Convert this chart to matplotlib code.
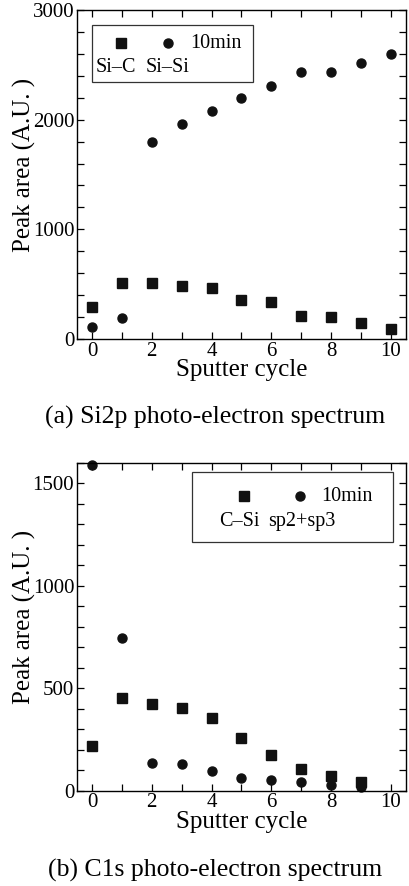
import matplotlib
matplotlib.use("Agg")
import matplotlib.pyplot as plt
from matplotlib.patches import Rectangle
from matplotlib.ticker import MultipleLocator

plt.rcParams['font.family'] = ['Liberation Serif', 'DejaVu Serif']
plt.rcParams['mathtext.fontset'] = 'stix'

# (a) Si2p peak areas
cycle_a = [0, 1, 2, 3, 4, 5, 6, 7, 8, 9, 10]
si_c = [291, 506, 506, 482, 463, 353, 334, 212, 205, 150, 95]
si_si_x = [0, 1, 2, 3, 4, 5, 6, 7, 8, 9, 10]
si_si = [107, 193, 1794, 1963, 2077, 2196, 2307, 2433, 2439, 2521, 2598]

# (b) C1s peak areas
cycle_b = [0, 1, 2, 3, 4, 5, 6, 7, 8, 9]
c_si = [218, 454, 422, 402, 353, 259, 174, 104, 72, 44]
sp23 = [1591, 746, 134, 130, 98, 64, 52, 41, 28, 20]

fig = plt.figure(figsize=(4.10, 8.86), dpi=100)
ax1 = fig.add_axes([0.1878, 0.6174, 0.8024, 0.3713])
ax2 = fig.add_axes([0.1878, 0.1076, 0.8024, 0.3702])


def style(ax, ymax, ymaj, ymin):
    ax.set_xlim(-0.5, 10.5)
    ax.set_ylim(0, ymax)
    ax.xaxis.set_major_locator(MultipleLocator(2))
    ax.xaxis.set_minor_locator(MultipleLocator(1))
    ax.yaxis.set_major_locator(MultipleLocator(ymaj))
    ax.yaxis.set_minor_locator(MultipleLocator(ymin))
    ax.tick_params(which='both', direction='in', top=True, right=True,
                   labelsize=15, pad=2, width=0.9)
    ax.tick_params(which='major', length=5)
    ax.tick_params(which='minor', length=5)
    for s in ax.spines.values():
        s.set_linewidth(1.0)
    ax.set_xlabel('Sputter cycle', fontsize=18, labelpad=-1)
    ax.set_ylabel('Peak area (A.U. )', fontsize=18)
    ax.yaxis.set_label_coords(-0.125, 0.53)


def legend_box(ax, box, sq, ci, txt10, lab1, lab2):
    ax.add_patch(Rectangle((box[0], box[1]), box[2], box[3], transform=ax.transAxes,
                           fill=False, edgecolor='#333333', linewidth=0.9, zorder=4))
    ax.plot(sq[0], sq[1], 's', color='#111111', markersize=7, transform=ax.transAxes)
    ax.plot(ci[0], ci[1], 'o', color='#111111', markersize=6.5, transform=ax.transAxes)
    ax.text(txt10[0], txt10[1], '10min', transform=ax.transAxes, fontsize=14.5,
            va='center', ha='left')
    ax.text(lab1[0], lab1[1], lab1[2], transform=ax.transAxes, fontsize=14.5,
            va='center', ha='left')
    ax.text(lab2[0], lab2[1], lab2[2], transform=ax.transAxes, fontsize=14.5,
            va='center', ha='left')


style(ax1, 3000, 1000, 200)
ax1.plot(cycle_a, si_c, 's', color='#111111', markersize=7, clip_on=False)
ax1.plot(si_si_x, si_si, 'o', color='#111111', markersize=6.5, clip_on=False)
legend_box(ax1, (0.046, 0.781, 0.489, 0.173), (0.134, 0.899), (0.278, 0.899),
           (0.345, 0.899), (0.058, 0.824, 'Si–C'), (0.208, 0.824, 'Si–Si'))

style(ax2, 1600, 500, 100)
ax2.plot(cycle_b, c_si, 's', color='#111111', markersize=7, clip_on=False)
ax2.plot(cycle_b, sp23, 'o', color='#111111', markersize=6.5, clip_on=False)
legend_box(ax2, (0.349, 0.759, 0.612, 0.214), (0.509, 0.898), (0.678, 0.898),
           (0.742, 0.898), (0.432, 0.820, 'C–Si'), (0.580, 0.820, 'sp2+sp3'))

fig.text(0.524, 1 - 417 / 886, '(a) Si2p photo-electron spectrum', fontsize=18.5,
         ha='center', va='center')
fig.text(0.524, 1 - 870 / 886, '(b) C1s photo-electron spectrum', fontsize=18.5,
         ha='center', va='center')

fig.savefig('out.png', dpi=100)
